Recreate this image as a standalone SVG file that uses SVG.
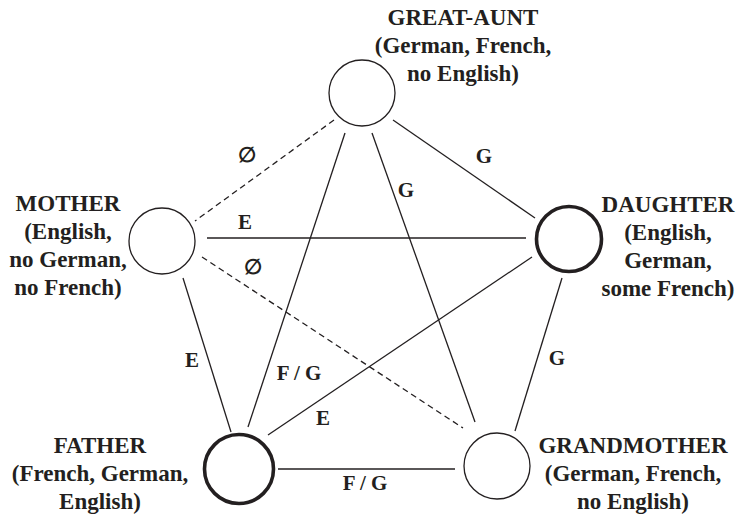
<svg xmlns="http://www.w3.org/2000/svg" width="744" height="519" viewBox="0 0 744 519">
<style>
  .node { fill: #ffffff; stroke: #231f20; stroke-width: 1.3; }
  .thick { stroke-width: 3.6; }
  .edge { stroke: #231f20; stroke-width: 1.3; fill: none; }
  .dash { stroke-dasharray: 6 4; }
</style>
<rect x="0" y="0" width="744" height="519" fill="#ffffff"/>
<g id="connectors">
  <line class="edge dash" x1="334" y1="120" x2="195" y2="221"/>
  <line class="edge" x1="393" y1="120" x2="535" y2="218"/>
  <line class="edge" x1="345" y1="133" x2="248" y2="427"/>
  <line class="edge" x1="372" y1="133" x2="475" y2="422"/>
  <line class="edge" x1="207" y1="238" x2="526" y2="238"/>
  <line class="edge dash" x1="202" y1="257" x2="463" y2="428"/>
  <line class="edge" x1="183" y1="278" x2="231" y2="432"/>
  <line class="edge" x1="532" y1="257" x2="268" y2="435"/>
  <line class="edge" x1="562" y1="278" x2="515" y2="431"/>
  <line class="edge" x1="278" y1="469" x2="455" y2="469"/>
  <text font-family="'Liberation Serif'" font-weight="bold" font-size="21" fill="#231f20" text-anchor="middle" x="247" y="162">∅</text>
  <text font-family="'Liberation Serif'" font-weight="bold" font-size="21" fill="#231f20" text-anchor="middle" x="484" y="163">G</text>
  <text font-family="'Liberation Serif'" font-weight="bold" font-size="21" fill="#231f20" text-anchor="middle" x="406" y="197">G</text>
  <text font-family="'Liberation Serif'" font-weight="bold" font-size="21" fill="#231f20" text-anchor="middle" x="245" y="229">E</text>
  <text font-family="'Liberation Serif'" font-weight="bold" font-size="21" fill="#231f20" text-anchor="middle" x="253" y="274">∅</text>
  <text font-family="'Liberation Serif'" font-weight="bold" font-size="21" fill="#231f20" text-anchor="middle" x="192" y="367">E</text>
  <text font-family="'Liberation Serif'" font-weight="bold" font-size="21" fill="#231f20" text-anchor="middle" x="299" y="380">F / G</text>
  <text font-family="'Liberation Serif'" font-weight="bold" font-size="21" fill="#231f20" text-anchor="middle" x="323" y="425">E</text>
  <text font-family="'Liberation Serif'" font-weight="bold" font-size="21" fill="#231f20" text-anchor="middle" x="557" y="365">G</text>
  <text font-family="'Liberation Serif'" font-weight="bold" font-size="21" fill="#231f20" text-anchor="middle" x="365" y="490">F / G</text>
</g>
<g id="great-aunt">
  <circle class="node" cx="362" cy="93" r="33"/>
  <text font-family="'Liberation Serif'" font-weight="bold" font-size="23" fill="#231f20" text-anchor="middle" x="463" y="25">GREAT-AUNT</text>
  <text font-family="'Liberation Serif'" font-weight="bold" font-size="23" fill="#231f20" text-anchor="middle" x="463" y="53">(German, French,</text>
  <text font-family="'Liberation Serif'" font-weight="bold" font-size="23" fill="#231f20" text-anchor="middle" x="463" y="81">no English)</text>
</g>
<g id="mother">
  <circle class="node" cx="162" cy="241" r="33"/>
  <text font-family="'Liberation Serif'" font-weight="bold" font-size="23" fill="#231f20" text-anchor="middle" x="68" y="211">MOTHER</text>
  <text font-family="'Liberation Serif'" font-weight="bold" font-size="23" fill="#231f20" text-anchor="middle" x="68" y="239">(English,</text>
  <text font-family="'Liberation Serif'" font-weight="bold" font-size="23" fill="#231f20" text-anchor="middle" x="68" y="267">no German,</text>
  <text font-family="'Liberation Serif'" font-weight="bold" font-size="23" fill="#231f20" text-anchor="middle" x="68" y="295">no French)</text>
</g>
<g id="daughter">
  <circle class="node thick" cx="569" cy="239" r="32.5"/>
  <text font-family="'Liberation Serif'" font-weight="bold" font-size="23" fill="#231f20" text-anchor="middle" x="668" y="212">DAUGHTER</text>
  <text font-family="'Liberation Serif'" font-weight="bold" font-size="23" fill="#231f20" text-anchor="middle" x="668" y="240">(English,</text>
  <text font-family="'Liberation Serif'" font-weight="bold" font-size="23" fill="#231f20" text-anchor="middle" x="668" y="268">German,</text>
  <text font-family="'Liberation Serif'" font-weight="bold" font-size="23" fill="#231f20" text-anchor="middle" x="668" y="296">some French)</text>
</g>
<g id="father">
  <circle class="node thick" cx="239" cy="469" r="34.5"/>
  <text font-family="'Liberation Serif'" font-weight="bold" font-size="23" fill="#231f20" text-anchor="middle" x="100" y="453">FATHER</text>
  <text font-family="'Liberation Serif'" font-weight="bold" font-size="23" fill="#231f20" text-anchor="middle" x="100" y="481">(French, German,</text>
  <text font-family="'Liberation Serif'" font-weight="bold" font-size="23" fill="#231f20" text-anchor="middle" x="100" y="509">English)</text>
</g>
<g id="grandmother">
  <circle class="node" cx="497" cy="466" r="33"/>
  <text font-family="'Liberation Serif'" font-weight="bold" font-size="23" fill="#231f20" text-anchor="middle" x="633" y="453">GRANDMOTHER</text>
  <text font-family="'Liberation Serif'" font-weight="bold" font-size="23" fill="#231f20" text-anchor="middle" x="633" y="481">(German, French,</text>
  <text font-family="'Liberation Serif'" font-weight="bold" font-size="23" fill="#231f20" text-anchor="middle" x="633" y="509">no English)</text>
</g>
</svg>
